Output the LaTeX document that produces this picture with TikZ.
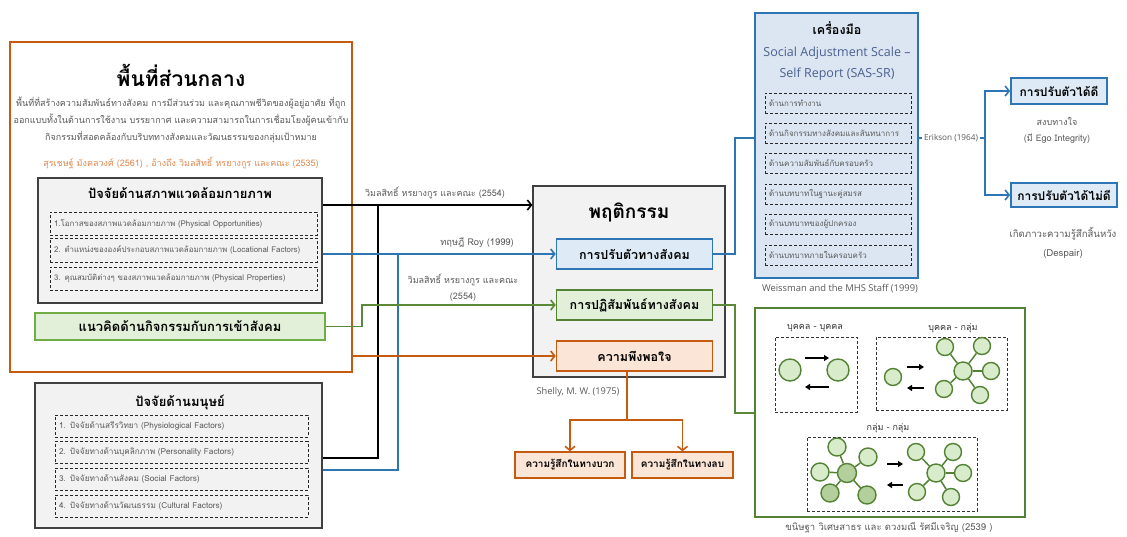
\documentclass[tikz,border=0pt]{standalone}
\usepackage{fontspec}
\setmainfont{Open Sans}
\newfontfamily\thai[Script=Thai]{Loma}
\usetikzlibrary{arrows.meta,calc}
\definecolor{orng}{HTML}{C55A11}
\definecolor{orngtxt}{HTML}{E08A50}
\definecolor{orngfill}{HTML}{FBE5D6}
\definecolor{blu}{HTML}{2E75B6}
\definecolor{blufill}{HTML}{DEEBF7}
\definecolor{toolfill}{HTML}{DCE6F2}
\definecolor{grn}{HTML}{70AD47}
\definecolor{grndk}{HTML}{548235}
\definecolor{grnfill}{HTML}{E2F0D9}
\definecolor{circfill}{HTML}{D8EBCB}
\definecolor{circdk}{HTML}{B3CF9C}
\definecolor{gryfill}{HTML}{F2F2F2}
\definecolor{grybd}{HTML}{404040}
\definecolor{txtg}{HTML}{595959}
\definecolor{sasblue}{HTML}{4A5F8F}
\newcommand\thf[2]{\thai\fontsize{#1}{#2}\selectfont}
\newcommand\latf[2]{\fontsize{#1}{#2}\selectfont}
\begin{document}
\begin{tikzpicture}[x=1pt,y=-1pt,
  bx/.style={rectangle, inner sep=0pt, align=center},
  dbx/.style={rectangle, draw=black!85, dashed, dash pattern=on 3pt off 2pt, line width=0.9pt, inner xsep=4pt, inner ysep=0pt, align=left, text=txtg},
  conn/.style={line width=1.8pt},
  tip/.style={-{Straight Barb[length=4pt,width=10pt,line width=1.6pt]}},
  lbl/.style={text=txtg, inner sep=1pt, align=center},
  circ/.style={circle, draw=grndk, line width=1.4pt, fill=circfill, inner sep=0pt},
  sarrow/.style={line width=1.6pt, -{Triangle[length=5pt,width=6pt]}},
  spoke/.style={draw=grndk, line width=1.5pt},
]
\useasboundingbox (0,0) rectangle (1127,536);

% ---------- central space box ----------
\node[bx, draw=orng, line width=1.6pt, fill=white, minimum width=342pt, minimum height=330pt] (central) at (181,207) {};
\node[font=\thf{21}{24}\bfseries] (ctitle) at (181,75) {พื้นที่ส่วนกลาง};
\node[lbl, font=\thf{9}{17}] (cdesc) at (181,120) {พื้นที่ที่สร้างความสัมพันธ์ทางสังคม การมีส่วนร่วม และคุณภาพชีวิตของผู้อยู่อาศัย ที่ถูก\\ออกแบบทั้งในด้านการใช้งาน บรรยากาศ และความสามารถในการเชื่อมโยงผู้คนเข้ากับ\\กิจกรรมที่สอดคล้องกับบริบททางสังคมและวัฒนธรรมของกลุ่มเป้าหมาย};
\node[lbl, text=orngtxt, font=\thf{9}{10}] (ccite) at (181,163) {สุรเชษฐ์ มังคลวงศ์ (2561) , อ้างถึง วิมลสิทธิ์ หรยางกูร และคณะ (2535)};

% physical environment factors
\node[bx, draw=grybd, line width=1.3pt, fill=gryfill, minimum width=284pt, minimum height=125pt] (phys) at (180,240.5) {};
\node[font=\thf{13}{15}\bfseries] (ptitle) at (180,193) {ปัจจัยด้านสภาพแวดล้อมกายภาพ};
\node[dbx, text width=259pt, minimum height=23pt, font=\thf{7.9}{9}] (p1) at (183.5,223.5) {1.โอกาสของสภาพแวดล้อมกายภาพ (Physical Opportunities)};
\node[dbx, text width=259pt, minimum height=24pt, font=\thf{7.9}{9}] (p2) at (183.5,250) {2. ตำแหน่งขององค์ประกอบสภาพแวดล้อมกายภาพ (Locational Factors)};
\node[dbx, text width=259pt, minimum height=23pt, font=\thf{7.9}{9}] (p3) at (183.5,278.5) {3. คุณสมบัติต่างๆ ของสภาพแวดล้อมกายภาพ (Physical Properties)};

% activity concept
\node[bx, draw=grn, line width=1.3pt, fill=grnfill, minimum width=290pt, minimum height=27pt, font=\thf{13}{15}\bfseries] (act) at (180,326.5) {แนวคิดด้านกิจกรรมกับการเข้าสังคม};

% human factors
\node[bx, draw=grybd, line width=1.3pt, fill=gryfill, minimum width=287pt, minimum height=145pt] (human) at (178.5,455.5) {};
\node[font=\thf{13}{15}\bfseries] (htitle) at (180,402) {ปัจจัยด้านมนุษย์};
\node[dbx, text width=245pt, minimum height=22pt, font=\thf{8.2}{9}] (h1) at (181.5,426) {1. ปัจจัยด้านสรีรวิทยา (Physiological Factors)};
\node[dbx, text width=245pt, minimum height=22pt, font=\thf{8.2}{9}] (h2) at (181.5,452.5) {2. ปัจจัยทางด้านบุคลิกภาพ (Personality Factors)};
\node[dbx, text width=245pt, minimum height=22pt, font=\thf{8.2}{9}] (h3) at (181.5,479) {3. ปัจจัยทางด้านสังคม (Social Factors)};
\node[dbx, text width=245pt, minimum height=22pt, font=\thf{8.2}{9}] (h4) at (181.5,506) {4. ปัจจัยทางด้านวัฒนธรรม (Cultural Factors)};

% ---------- behaviour box ----------
\node[bx, draw=grybd, line width=1.3pt, fill=gryfill, minimum width=192pt, minimum height=191pt] (beh) at (629,281.5) {};
\node[font=\thf{19}{22}\bfseries] (btitle) at (629,212) {พฤติกรรม};
\node[bx, draw=blu, line width=1.6pt, fill=blufill, minimum width=156pt, minimum height=30pt, font=\thf{12.5}{14}\bfseries] (adj) at (634.5,254) {การปรับตัวทางสังคม};
\node[bx, draw=grndk, line width=1.6pt, fill=grnfill, minimum width=156pt, minimum height=30pt, font=\thf{12.5}{14}\bfseries] (inter) at (634.5,305) {การปฏิสัมพันธ์ทางสังคม};
\node[bx, draw=orng, line width=1.6pt, fill=orngfill, minimum width=156pt, minimum height=30pt, font=\thf{12.5}{14}\bfseries] (sat) at (634.5,356) {ความพึงพอใจ};

\node[bx, draw=orng, line width=1.4pt, fill=orngfill, minimum width=110pt, minimum height=26pt, font=\thf{10}{12}\bfseries] (pos) at (570,465) {ความรู้สึกในทางบวก};
\node[bx, draw=orng, line width=1.4pt, fill=orngfill, minimum width=101pt, minimum height=26pt, font=\thf{10}{12}\bfseries] (neg) at (682.5,465) {ความรู้สึกในทางลบ};
\node[lbl, font=\latf{9.3}{11}] (shelly) at (578,392) {Shelly, M. W. (1975)};

% ---------- tools box ----------
\node[bx, draw=blu, line width=1.8pt, fill=toolfill, minimum width=163pt, minimum height=265pt] (tools) at (836.5,145.5) {};
\node[font=\thf{12.5}{14}\bfseries] (ttitle) at (837,28) {เครื่องมือ};
\node[lbl, text=sasblue, font=\latf{12.5}{21}] (sas) at (837,63.5) {Social Adjustment Scale –\\Self Report (SAS-SR)};
\node[dbx, text width=138pt, minimum height=20pt, font=\thf{8}{8}] (t1) at (838,103) {ด้านการทำงาน};
\node[dbx, text width=138pt, minimum height=20pt, font=\thf{8}{8}] (t2) at (838,133) {ด้านกิจกรรมทางสังคมและสันทนาการ};
\node[dbx, text width=138pt, minimum height=20pt, font=\thf{8}{8}] (t3) at (838,163) {ด้านความสัมพันธ์กับครอบครัว};
\node[dbx, text width=138pt, minimum height=20pt, font=\thf{8}{8}] (t4) at (838,194) {ด้านบทบาทในฐานะคู่สมรส};
\node[dbx, text width=138pt, minimum height=20pt, font=\thf{8}{8}] (t5) at (838,224) {ด้านบทบาทของผู้ปกครอง};
\node[dbx, text width=138pt, minimum height=20pt, font=\thf{8}{8}] (t6) at (838,255) {ด้านบทบาทภายในครอบครัว};
\node[lbl, font=\latf{9.4}{11}] (weiss) at (840,289) {Weissman and the MHS Staff (1999)};

% ---------- outcomes ----------
\node[bx, draw=blu, line width=1.8pt, fill=blufill, minimum width=96pt, minimum height=26pt, font=\thf{12}{14}\bfseries] (good) at (1059,91) {การปรับตัวได้ดี};
\node[lbl, font=\thf{9}{16}] (goodtxt) at (1057,130) {สงบทางใจ\\(มี Ego Integrity)};
\node[bx, draw=blu, line width=1.8pt, fill=blufill, minimum width=106pt, minimum height=24pt, font=\thf{12}{14}\bfseries] (bad) at (1064,195) {การปรับตัวได้ไม่ดี};
\node[lbl, font=\thf{9.6}{19}] (badtxt) at (1063,243) {เกิดภาวะความรู้สึกสิ้นหวัง\\(Despair)};

% ---------- interaction types ----------
\node[bx, draw=grndk, line width=1.6pt, fill=white, minimum width=270pt, minimum height=209pt] (gbox) at (890,412.5) {};
\node[lbl, font=\thf{9.5}{10}] (gcap) at (889,528) {ขนิษฐา วิเศษสาธร และ ดวงมณี รัศมีเจริญ (2539 )};
\node[lbl, text=black!80, font=\thf{9}{10}] (g1t) at (815,328) {บุคคล - บุคคล};
\node[lbl, text=black!80, font=\thf{9}{10}] (g2t) at (953,328) {บุคคล - กลุ่ม};
\node[lbl, text=black!80, font=\thf{9}{10}] (g3t) at (888,428) {กลุ่ม - กลุ่ม};
\node[dbx, draw=black!80, line width=0.8pt, minimum width=82pt, minimum height=75pt] (r1) at (816,374.5) {};
\node[dbx, draw=black!80, line width=0.8pt, minimum width=131pt, minimum height=73pt] (r2) at (941.5,373.5) {};
\node[dbx, draw=black!80, line width=0.8pt, minimum width=170pt, minimum height=74pt] (r3) at (892,474) {};

% person-person
\node[circ, minimum size=22pt] (a1) at (790,370) {};
\node[circ, minimum size=22pt] (a2) at (838,370) {};
\draw[sarrow] (805,358) -- (829,358);
\draw[sarrow] (829,387) -- (805,387);

% person-group
\node[circ, minimum size=17pt] (b0) at (893,377) {};
\draw[sarrow] (907,367) -- (924,367);
\draw[sarrow] (924,388) -- (907,388);
\node[circ, minimum size=18pt] (s0) at (963,371) {};
\foreach \p [count=\i] in {(945,347),(982,346),(991,371),(980,395),(944,389)}
  \node[circ, minimum size=17pt] (s\i) at \p {};
\foreach \i in {1,...,5} \draw[spoke] (s0) -- (s\i);

% group-group
\node[circ, fill=circdk, minimum size=19pt] (l0) at (847,473) {};
\foreach \p [count=\i] in {(837,447),(868,457),(820,472)}
  \node[circ, minimum size=18pt] (l\i) at \p {};
\node[circ, fill=circdk, minimum size=18pt] (l4) at (830,493) {};
\node[circ, fill=circdk, minimum size=18pt] (l5) at (867,495) {};
\foreach \i in {1,...,5} \draw[spoke] (l0) -- (l\i);
\draw[sarrow] (887,464) -- (903,464);
\draw[sarrow] (903,485) -- (887,485);
\node[circ, minimum size=18pt] (m0) at (936,473) {};
\foreach \p [count=\i] in {(916,452),(953,452),(963,473),(951,497),(917,492)}
  \node[circ, minimum size=17pt] (m\i) at \p {};
\foreach \i in {1,...,5} \draw[spoke] (m0) -- (m\i);

% ---------- connectors ----------
\coordinate (bj) at (378,205);
\coordinate (uj) at (398,254);
\coordinate (gj) at (362,305);
\coordinate (oj) at (627,420);
\coordinate (bt) at (735,138);
\coordinate (gt) at (735,413);
\coordinate (ej) at (985,138);

\draw[conn, black, tip] (phys.east |- bj) -- (beh.west |- bj);
\draw[conn, black] (bj) |- (human.east |- 0,458);
\draw[conn, blu, tip] (phys.east |- uj) -- (adj.west);
\draw[conn, blu] (uj) |- (human.east |- 0,470);
\draw[conn, grn!80!black, tip] (act.east) -| (gj) -- (inter.west);
\draw[conn, orng, tip] (central.east |- sat) -- (sat.west);
\draw[conn, orng] (sat.south -| oj) -- (oj);
\draw[conn, orng, tip] (oj) -| (pos.north);
\draw[conn, orng, tip] (oj) -| (neg.north);
\draw[conn, blu] (adj.east) -| (bt) -- (tools.west |- bt);
\draw[conn, grn!80!black] (inter.east) -| (gt) -- (gbox.west |- gt);
\draw[conn, blu] (tools.east |- ej) -- (ej);
\draw[conn, blu, tip] (ej) |- (good.west);
\draw[conn, blu, tip] (ej) |- (bad.west);

\node[lbl, fill=white, inner sep=2pt, font=\latf{8.2}{9}] (erik) at (951,138) {Erikson (1964)};
\node[lbl, font=\thf{9}{10}] (l1) at (435,193) {วิมลสิทธิ์ หรยางกูร และคณะ (2554)};
\node[lbl, font=\thf{9.3}{10}] (l2) at (477,243) {ทฤษฎี Roy (1999)};
\node[lbl, font=\thf{9}{16}] (l3) at (463,288) {วิมลสิทธิ์ หรยางกูร และคณะ\\(2554)};
\end{tikzpicture}
\end{document}
